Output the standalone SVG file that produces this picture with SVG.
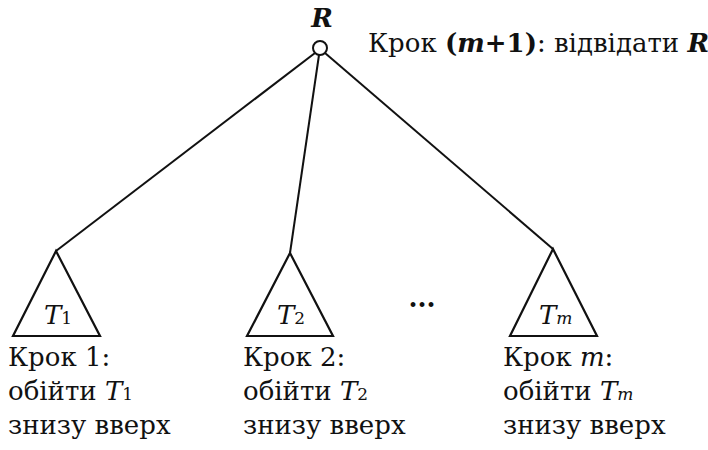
<svg xmlns="http://www.w3.org/2000/svg" width="708" height="450" viewBox="0 0 708 450">
<style>
.t{font-family:"DejaVu Serif","Liberation Serif",serif;font-size:26px;fill:#111}
.i{font-style:italic}
.b{font-weight:bold}
.ln{stroke:#111;stroke-width:2;fill:none}
.tri{stroke:#111;stroke-width:2.2;fill:#fff;stroke-linejoin:miter}
</style>
<rect width="708" height="450" fill="#fff"/>
<g id="connectors">
<line class="ln" x1="315" y1="53" x2="56" y2="251"/>
<line class="ln" x1="319" y1="55" x2="290" y2="253"/>
<line class="ln" x1="325" y1="53" x2="553" y2="249"/>
</g>
<g id="root">
<circle cx="320" cy="48" r="7" fill="#fff" stroke="#111" stroke-width="2"/>
<text class="t i b" x="322" y="27" text-anchor="middle" font-size="24">R</text>
<text class="t" x="368" y="52" font-size="25">Крок <tspan class="b">(<tspan class="i">m</tspan>+1)</tspan>: відвідати <tspan class="i b">R</tspan></text>
</g>
<g id="T1">
<polygon class="tri" points="56,251 13,336 100,336"/>
<text class="t i" x="44" y="324">T<tspan font-size="17" font-style="normal">1</tspan></text>
<text class="t" x="8" y="366">Крок 1:</text>
<text class="t" x="8" y="400">обійти <tspan class="i">T</tspan><tspan font-size="17">1</tspan></text>
<text class="t" x="8" y="434">знизу вверх</text>
</g>
<g id="T2">
<polygon class="tri" points="290,253 247,336 333,336"/>
<text class="t i" x="277" y="324">T<tspan font-size="17" font-style="normal">2</tspan></text>
<text class="t" x="243" y="366">Крок 2:</text>
<text class="t" x="243" y="400">обійти <tspan class="i">T</tspan><tspan font-size="17">2</tspan></text>
<text class="t" x="243" y="434">знизу вверх</text>
</g>
<g id="dots">
<text class="t b" x="422" y="307" text-anchor="middle">...</text>
</g>
<g id="Tm">
<polygon class="tri" points="553,249 510,336 597,336"/>
<text class="t i" x="539" y="324">T<tspan font-size="17">m</tspan></text>
<text class="t" x="503" y="366">Крок <tspan class="i">m</tspan>:</text>
<text class="t" x="503" y="400">обійти  <tspan class="i">T</tspan><tspan class="i" font-size="17">m</tspan></text>
<text class="t" x="503" y="434">знизу вверх</text>
</g>
</svg>
